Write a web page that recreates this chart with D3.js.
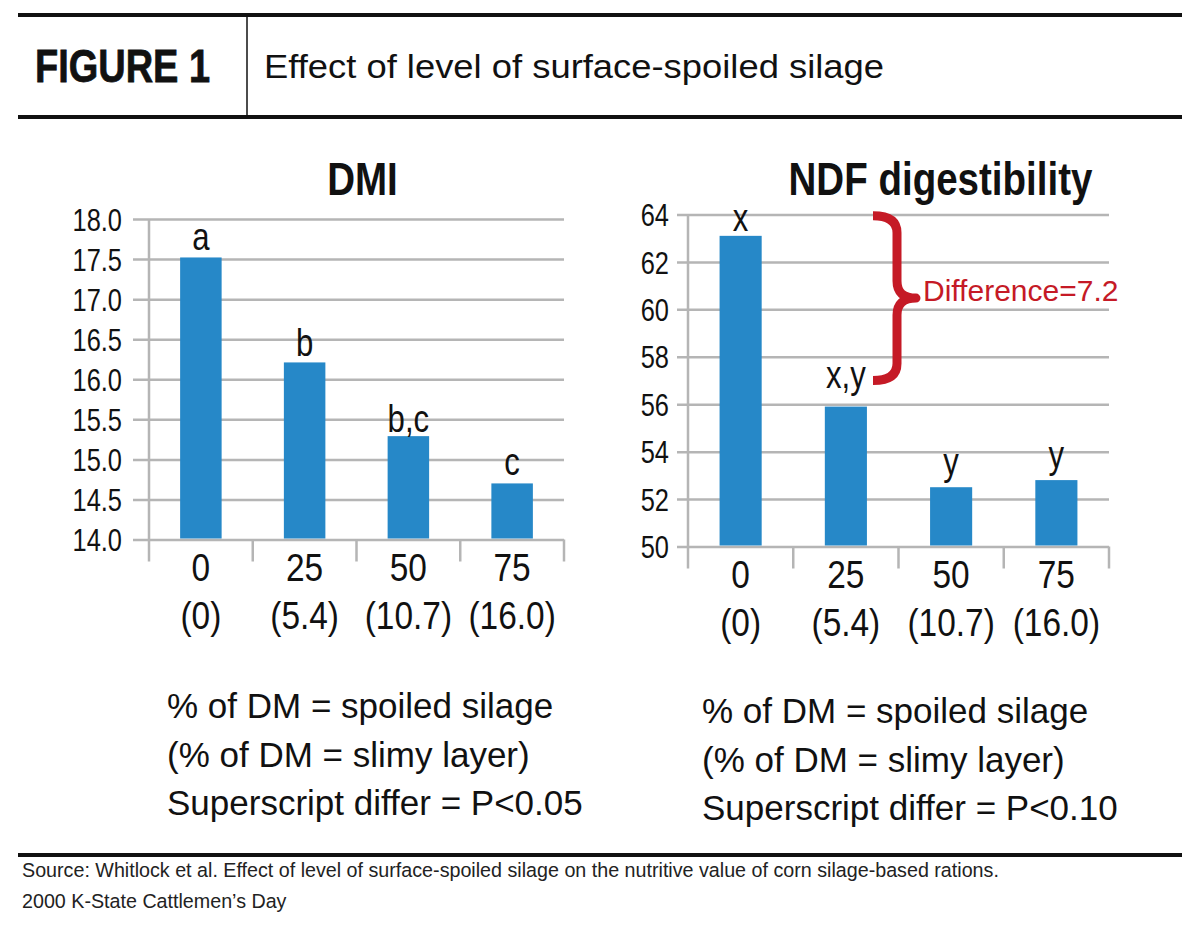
<!DOCTYPE html>
<html>
<head>
<meta charset="utf-8">
<script src="https://cdn.jsdelivr.net/npm/d3@7"></script>
<style>
  html, body { margin: 0; padding: 0; background: #fff; }
  svg { display: block; }
</style>
</head>
<body>
<svg id="chart" width="1200" height="934"></svg>
<script>
// ---------------- data ----------------
const categories = ["0", "25", "50", "75"];
const subLabels = ["(0)", "(5.4)", "(10.7)", "(16.0)"];

const dmiTitle = "DMI";
const dmiValues = [17.52, 16.21, 15.29, 14.70];
const dmiLetters = ["a", "b", "b,c", "c"];
const dmiTicks = [14.0, 14.5, 15.0, 15.5, 16.0, 16.5, 17.0, 17.5, 18.0];

const ndfTitle = "NDF digestibility";
const ndfValues = [63.1, 55.9, 52.5, 52.8];
const ndfLetters = ["x", "x,y", "y", "y"];
const ndfTicks = [50, 52, 54, 56, 58, 60, 62, 64];

const braceRange = [63.95, 57.0];
const braceLabel = "Difference=7.2";

const dmiNotes = ["% of DM = spoiled silage", "(% of DM = slimy layer)", "Superscript differ = P<0.05"];
const ndfNotes = ["% of DM = spoiled silage", "(% of DM = slimy layer)", "Superscript differ = P<0.10"];

const figureLabel = "FIGURE 1";
const figureTitle = "Effect of level of surface-spoiled silage";
const sourceLines = [
  "Source: Whitlock et al. Effect of level of surface-spoiled silage on the nutritive value of corn silage-based rations.",
  "2000 K-State Cattlemen\u2019s Day"
];

// ---------------- style ----------------
const SANS = "'Liberation Sans', Arial, Helvetica, sans-serif";
const SQ = 0.82;  // horizontal squeeze to imitate a narrow face
const SQX = 0.88; // squeeze for x-axis labels
const BAR = "#2688c8";
const GRID = "#b5b5b5";
const RED = "#c51a26";

const svg = d3.select("#chart");
svg.append("rect").attr("width", 1200).attr("height", 934).attr("fill", "#fff");

function narrow(sel, xf, yf, k) {
  const s = k || SQ;
  sel.attr("x", 0).attr("y", 0)
    .attr("transform", (d, i) => `translate(${xf(d, i)},${yf(d, i)}) scale(${s},1)`);
  return sel;
}

// ---------------- header ----------------
svg.append("line").attr("x1", 18).attr("x2", 1182).attr("y1", 15).attr("y2", 15)
  .attr("stroke", "#111").attr("stroke-width", 4);
svg.append("line").attr("x1", 18).attr("x2", 1182).attr("y1", 117).attr("y2", 117)
  .attr("stroke", "#111").attr("stroke-width", 4);
svg.append("line").attr("x1", 247).attr("x2", 247).attr("y1", 15).attr("y2", 117)
  .attr("stroke", "#111").attr("stroke-width", 1.5);
svg.append("text").attr("x", 35).attr("y", 82)
  .attr("font-family", SANS).attr("font-weight", "bold").attr("font-size", 47)
  .attr("textLength", 175).attr("lengthAdjust", "spacingAndGlyphs")
  .attr("fill", "#111").attr("stroke", "#111").attr("stroke-width", 0.8)
  .text(figureLabel);
svg.append("text").attr("x", 264).attr("y", 78)
  .attr("font-family", SANS).attr("font-size", 34)
  .attr("textLength", 620).attr("lengthAdjust", "spacingAndGlyphs")
  .attr("fill", "#111")
  .text(figureTitle);

// ---------------- chart builder ----------------
function drawChart(cfg) {
  const g = svg.append("g");
  const y = d3.scaleLinear().domain(cfg.domain).range([cfg.bottom, cfg.top]);
  const x = d3.scaleBand().domain(categories).range([cfg.left, cfg.right])
    .paddingInner(0.6).paddingOuter(0.3);
  const base = y(cfg.domain[0]);
  const pad = cfg.left - cfg.labelX;

  // gridlines + y tick labels via axis
  const yAxis = d3.axisLeft(y).tickValues(cfg.ticks)
    .tickSizeInner(-(cfg.right - cfg.left)).tickSizeOuter(0)
    .tickPadding(pad)
    .tickFormat(cfg.fmt);
  const ya = g.append("g").attr("transform", `translate(${cfg.left},0)`).call(yAxis);
  ya.select(".domain").remove();
  ya.selectAll(".tick line").attr("x1", -cfg.outTick)
    .attr("stroke", GRID).attr("stroke-width", 2.5);
  ya.selectAll(".tick text")
    .attr("font-family", SANS).attr("font-size", cfg.tickFont).attr("fill", "#111")
    .attr("dy", "0.36em").attr("x", 0)
    .attr("transform", `translate(${-pad},0) scale(${SQ},1)`);

  // vertical axis line
  g.append("line").attr("x1", cfg.left).attr("x2", cfg.left)
    .attr("y1", y(cfg.domain[1])).attr("y2", base)
    .attr("stroke", GRID).attr("stroke-width", 2.5);

  // category boundary ticks
  const stepW = (cfg.right - cfg.left) / categories.length;
  g.selectAll(".ctick").data(d3.range(categories.length + 1)).join("line")
    .attr("x1", i => cfg.left + i * stepW)
    .attr("x2", i => cfg.left + i * stepW)
    .attr("y1", base).attr("y2", base + 22)
    .attr("stroke", GRID).attr("stroke-width", 2.5);

  // bars
  g.selectAll(".bar").data(cfg.values).join("rect")
    .attr("x", (d, i) => x(categories[i]))
    .attr("width", x.bandwidth())
    .attr("y", d => y(d))
    .attr("height", d => base - y(d) - 1)
    .attr("fill", BAR);

  const cx = i => x(categories[i]) + x.bandwidth() / 2;

  // bar letters
  narrow(g.selectAll(".lbl").data(cfg.values).join("text"),
      (d, i) => cx(i),
      (d, i) => Math.max(y(d) - cfg.labelGap[i], y(cfg.domain[1]) + 16))
    .attr("text-anchor", "middle")
    .attr("font-family", SANS).attr("font-size", 38).attr("fill", "#111")
    .text((d, i) => cfg.letters[i]);

  // x labels
  narrow(g.selectAll(".xl1").data(categories).join("text"),
      (d, i) => cx(i), () => base + 41, SQX)
    .attr("text-anchor", "middle")
    .attr("font-family", SANS).attr("font-size", 38).attr("fill", "#111")
    .text(d => d);
  narrow(g.selectAll(".xl2").data(subLabels).join("text"),
      (d, i) => cx(i), () => base + 89, SQX)
    .attr("text-anchor", "middle")
    .attr("font-family", SANS).attr("font-size", 38).attr("fill", "#111")
    .text(d => d);

  // title
  narrow(g.append("text"), () => cfg.titleX, () => 195)
    .attr("text-anchor", "middle")
    .attr("font-family", SANS).attr("font-weight", "bold").attr("font-size", 47)
    .attr("fill", "#111")
    .text(cfg.title);

  // notes
  g.selectAll(".note").data(cfg.notes).join("text")
    .attr("x", cfg.noteX)
    .attr("y", (d, i) => cfg.noteY + i * 48.5)
    .attr("font-family", SANS).attr("font-size", 35).attr("fill", "#111")
    .text(d => d);

  return { x, y, g };
}

const left = drawChart({
  domain: [14, 18], ticks: dmiTicks, fmt: d3.format(".1f"),
  top: 219, bottom: 539.5, left: 149, right: 564, labelX: 122, outTick: 16, tickFont: 31,
  values: dmiValues, letters: dmiLetters, labelGap: [7, 6, 4, 8],
  title: dmiTitle, titleX: 362.5,
  notes: dmiNotes, noteX: 167, noteY: 718
});

const right = drawChart({
  domain: [50, 64], ticks: ndfTicks, fmt: d3.format("d"),
  top: 214.5, bottom: 546.5, left: 688, right: 1109, labelX: 669, outTick: 11, tickFont: 31,
  values: ndfValues, letters: ndfLetters, labelGap: [12, 19, 12, 12],
  title: ndfTitle, titleX: 940.5,
  notes: ndfNotes, noteX: 702, noteY: 723
});

// ---------------- brace annotation ----------------
{
  const y = right.y;
  const yTop = y(braceRange[0]), yBot = y(braceRange[1]);
  const yMid = (yTop + yBot) / 2;
  const xl = 873, xs = 897, xp = 916;
  const r = 17;
  const p = d3.path();
  p.moveTo(xl, yTop);
  p.quadraticCurveTo(xs, yTop, xs, yTop + r);
  p.lineTo(xs, yMid - r);
  p.quadraticCurveTo(xs, yMid, xp, yMid);
  p.quadraticCurveTo(xs, yMid, xs, yMid + r);
  p.lineTo(xs, yBot - r);
  p.quadraticCurveTo(xs, yBot, xl, yBot);
  right.g.append("path").attr("d", p.toString())
    .attr("fill", "none").attr("stroke", RED).attr("stroke-width", 9)
    .attr("stroke-linejoin", "round");
  right.g.append("text").attr("x", 923).attr("y", yMid + 3)
    .attr("font-family", SANS).attr("font-size", 30).attr("fill", RED)
    .text(braceLabel);
}

// ---------------- source ----------------
svg.append("line").attr("x1", 18).attr("x2", 1182).attr("y1", 855).attr("y2", 855)
  .attr("stroke", "#111").attr("stroke-width", 4);
svg.selectAll(".src").data(sourceLines).join("text")
  .attr("x", 22).attr("y", (d, i) => 877 + i * 31)
  .attr("font-family", SANS).attr("font-size", 19.7).attr("fill", "#222")
  .text(d => d);
</script>
</body>
</html>
